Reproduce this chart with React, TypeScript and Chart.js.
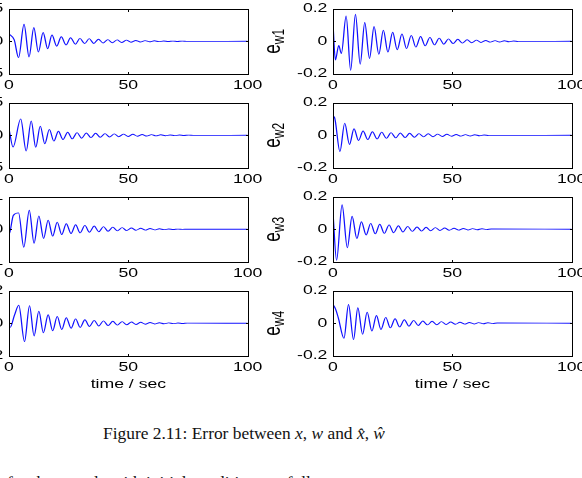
import React, { useEffect, useRef } from "react";
import { Chart, registerables } from "chart.js";

Chart.register(...registerables);

// ---- data -------------------------------------------------------------
// time axis (seconds)
const TIME_TICKS = [0, 50, 100];
const X_TITLE = "time / sec";

// y ticks for each panel
const X1_YTICKS = [-5, 0, 5];
const X2_YTICKS = [-5, 0, 5];
const X3_YTICKS = [-1, 0, 1];
const X4_YTICKS = [-2, 0, 2];
const W_YTICKS = [-0.2, 0, 0.2];

// subscripts of the estimation-error labels e_w1 ... e_w4
const W_LABELS = ["w1", "w2", "w3", "w4"];

// left column: turning points of the state errors (time s, value)
const X1_T = [0, 2.2, 4.0, 6.3, 8.4, 10.4, 12.3, 14.3, 16.2, 18.0, 20.0, 21.9, 23.9, 25.8, 27.8, 29.7, 31.7, 33.6, 35.5, 37.5, 39.4, 41.4, 43.3, 45.3, 47.2, 49.2, 51.1, 53.1, 55.0, 57.0, 58.9, 60.9, 62.8, 64.8, 66.7, 68.7, 70.6, 72.6, 74.5, 100];
const X1_V = [1.1, 0.2, -2.5, 2.6, -2.4, 2.1, -1.65, 1.35, -1.15, 0.95, -0.75, 0.7, -0.55, 0.55, -0.45, 0.45, -0.35, 0.4, -0.33, 0.32, -0.27, 0.26, -0.22, 0.21, -0.18, 0.17, -0.14, 0.13, -0.11, 0.1, -0.08, 0.07, -0.06, 0.05, -0.04, 0.03, -0.03, 0.02, -0.02, 0];

const X2_T = [0, 1.7, 4.9, 7.2, 9.3, 11.2, 13.1, 15.0, 16.9, 18.8, 20.7, 22.6, 24.6, 26.5, 28.5, 30.4, 32.4, 34.3, 36.3, 38.2, 40.2, 42.1, 44.1, 46.0, 48.0, 49.9, 51.9, 53.8, 55.8, 57.7, 59.7, 61.6, 63.6, 65.5, 67.5, 69.4, 71.4, 73.3, 75.3, 77.2, 100];
const X2_V = [1.0, -1.8, 2.5, -2.4, 2.2, -1.85, 1.4, -1.3, 0.9, -0.9, 0.62, -0.65, 0.47, -0.55, 0.4, -0.45, 0.35, -0.36, 0.3, -0.3, 0.26, -0.26, 0.22, -0.22, 0.18, -0.18, 0.15, -0.15, 0.12, -0.12, 0.1, -0.09, 0.07, -0.07, 0.05, -0.05, 0.04, -0.03, 0.02, -0.02, 0];

const X3_T = [0, 0.5, 1.8, 4.0, 6.2, 8.5, 10.5, 12.5, 14.5, 16.4, 18.3, 20.2, 22.1, 24.0, 26.0, 27.9, 29.8, 31.8, 33.7, 35.7, 37.6, 39.6, 41.5, 43.5, 45.4, 47.4, 49.3, 51.3, 53.2, 55.2, 57.1, 59.1, 61.0, 63.0, 64.9, 66.9, 68.8, 70.8, 72.7, 74.7, 100];
const X3_V = [-0.16, -0.05, 0.42, 0.5, -0.55, 0.58, -0.43, 0.41, -0.28, 0.28, -0.21, 0.22, -0.16, 0.17, -0.13, 0.14, -0.11, 0.12, -0.09, 0.1, -0.075, 0.08, -0.06, 0.065, -0.05, 0.05, -0.04, 0.04, -0.03, 0.03, -0.025, 0.022, -0.018, 0.016, -0.012, 0.01, -0.008, 0.006, -0.004, 0.003, 0];

const X4_T = [0, 0.5, 2.3, 4.1, 6.5, 8.6, 10.5, 12.5, 14.4, 16.4, 18.3, 20.2, 22.1, 24.0, 26.0, 27.9, 29.8, 31.8, 33.7, 35.7, 37.6, 39.6, 41.5, 43.5, 45.4, 47.4, 49.3, 51.3, 53.2, 55.2, 57.1, 59.1, 61.0, 63.0, 64.9, 66.9, 68.8, 70.8, 72.7, 74.7, 100];
const X4_V = [-0.18, -0.25, 0.5, 1.1, -1.12, 1.08, -0.78, 0.74, -0.58, 0.52, -0.46, 0.42, -0.38, 0.34, -0.3, 0.27, -0.25, 0.22, -0.2, 0.18, -0.17, 0.15, -0.14, 0.12, -0.11, 0.1, -0.09, 0.08, -0.07, 0.06, -0.055, 0.05, -0.04, 0.035, -0.03, 0.025, -0.02, 0.015, -0.012, 0.01, 0];

// right column: turning points of e_w1 ... e_w4
const W1_T = [0, 1.0, 2.4, 3.5, 5.5, 7.4, 9.4, 11.4, 13.3, 15.3, 17.2, 19.2, 21.1, 23.0, 25.0, 26.9, 28.9, 30.8, 32.8, 34.7, 36.7, 38.6, 40.6, 42.5, 44.5, 46.4, 48.4, 50.3, 52.3, 54.2, 56.2, 58.1, 60.1, 62.0, 64.0, 65.9, 67.9, 69.8, 71.8, 73.7, 75.7, 77.6, 100];
const W1_V = [0.105, -0.115, -0.025, -0.075, 0.155, -0.178, 0.165, -0.14, 0.115, -0.105, 0.09, -0.08, 0.068, -0.066, 0.055, -0.052, 0.045, -0.045, 0.036, -0.036, 0.029, -0.028, 0.024, -0.022, 0.019, -0.018, 0.015, -0.014, 0.012, -0.011, 0.009, -0.009, 0.007, -0.007, 0.005, -0.005, 0.004, -0.004, 0.003, -0.003, 0.002, -0.002, 0];

const W2_T = [0, 0.6, 2.9, 4.9, 6.9, 8.8, 10.7, 12.6, 14.6, 16.5, 18.5, 20.4, 22.4, 24.3, 26.3, 28.2, 30.2, 32.1, 34.1, 36.0, 38.0, 39.9, 41.9, 43.8, 45.8, 47.7, 49.7, 51.6, 53.6, 55.5, 57.5, 59.4, 61.4, 63.3, 65.3, 100];
const W2_V = [0.115, 0.11, -0.1, 0.074, -0.056, 0.04, -0.032, 0.026, -0.026, 0.022, -0.022, 0.019, -0.019, 0.016, -0.016, 0.014, -0.014, 0.012, -0.012, 0.01, -0.01, 0.009, -0.009, 0.007, -0.007, 0.006, -0.006, 0.005, -0.005, 0.004, -0.004, 0.003, -0.003, 0.002, -0.002, 0];

const W3_T = [0, 1.5, 3.8, 6.0, 8.0, 10.0, 11.9, 13.9, 15.8, 17.7, 19.6, 21.5, 23.5, 25.4, 27.4, 29.3, 31.3, 33.2, 35.2, 37.1, 39.0, 40.9, 42.9, 44.8, 46.8, 48.7, 50.7, 52.6, 54.6, 56.5, 58.5, 60.4, 62.4, 64.3, 66.3, 100];
const W3_V = [0.1, -0.19, 0.15, -0.113, 0.08, -0.057, 0.046, -0.035, 0.036, -0.028, 0.031, -0.025, 0.027, -0.021, 0.022, -0.017, 0.018, -0.013, 0.014, -0.011, 0.012, -0.009, 0.01, -0.007, 0.008, -0.006, 0.006, -0.005, 0.005, -0.004, 0.004, -0.003, 0.003, -0.002, 0.002, 0];

const W4_T = [0, 1.0, 2.2, 4.6, 6.5, 8.6, 10.4, 12.4, 14.3, 16.3, 18.2, 20.1, 22.1, 24.0, 26.0, 27.9, 29.9, 31.8, 33.8, 35.7, 37.6, 39.6, 41.5, 43.5, 45.4, 47.4, 49.3, 51.3, 53.2, 55.2, 57.1, 59.1, 61.0, 63.0, 64.9, 66.9, 68.8, 100];
const W4_V = [0.115, 0.09, 0.035, -0.092, 0.115, -0.1, 0.095, -0.068, 0.068, -0.048, 0.048, -0.038, 0.036, -0.028, 0.028, -0.022, 0.022, -0.018, 0.018, -0.014, 0.014, -0.01, 0.012, -0.009, 0.01, -0.007, 0.008, -0.006, 0.006, -0.005, 0.005, -0.004, 0.004, -0.003, 0.003, -0.002, 0.002, 0];

// ---- layout & style ----------------------------------------------------
const PAGE_W = 582;
const PAGE_H = 478;
const WIDEN = 1.4; // every panel is laid out narrow, then drawn widened by this factor
const PLOT_W = 171; // logical (unwidened) plot width
const PLOT_H = 67;
const ROW_TOPS = [7, 101, 195, 289];
const COL_LEFTS = [9, 333]; // screen x of each column's plot box
const AXIS_W = [40, 70]; // logical width reserved left of each plot box
const PAD_T = 10;
const PAD_R = 14;
const XAXIS_H = 25;
const XAXIS_H_LAST = 40;

const SANS = "'Liberation Sans', Arial, Helvetica, sans-serif";
const SERIF = "'Liberation Serif', 'DejaVu Serif', serif";
const TICK_FONT = 12.6;
const LINE_COLOR = "#1010ff";
const AXIS_COLOR = "#000000";
const TICK_LEN = 3;

type PanelSpec = {
  t: number[];
  v: number[];
  yTicks: number[];
  col: number;
  row: number;
  label?: string;
};

const PANELS: PanelSpec[] = [
  { t: X1_T, v: X1_V, yTicks: X1_YTICKS, col: 0, row: 0 },
  { t: W1_T, v: W1_V, yTicks: W_YTICKS, col: 1, row: 0, label: W_LABELS[0] },
  { t: X2_T, v: X2_V, yTicks: X2_YTICKS, col: 0, row: 1 },
  { t: W2_T, v: W2_V, yTicks: W_YTICKS, col: 1, row: 1, label: W_LABELS[1] },
  { t: X3_T, v: X3_V, yTicks: X3_YTICKS, col: 0, row: 2 },
  { t: W3_T, v: W3_V, yTicks: W_YTICKS, col: 1, row: 2, label: W_LABELS[2] },
  { t: X4_T, v: X4_V, yTicks: X4_YTICKS, col: 0, row: 3 },
  { t: W4_T, v: W4_V, yTicks: W_YTICKS, col: 1, row: 3, label: W_LABELS[3] },
];

// Widens the drawing horizontally, then adds the box, inward ticks,
// the rotated y label and the x title.
function framePlugin(spec: PanelSpec, isLast: boolean) {
  return {
    id: "frame",
    beforeDraw(chart: any) {
      const c = chart.canvas as HTMLCanvasElement;
      const bw = Math.round(chart.width * WIDEN);
      if (c.width !== bw) {
        c.width = bw;
        c.style.width = bw + "px";
      }
      chart.ctx.setTransform(WIDEN, 0, 0, 1, 0, 0);
    },
    afterDraw(chart: any) {
      const { ctx, chartArea: a, scales } = chart;
      ctx.save();
      ctx.setTransform(1, 0, 0, 1, 0, 0);
      const px = (v: number) => Math.round(v * WIDEN);
      const L = px(a.left);
      const R = px(a.right);
      const T = Math.round(a.top);
      const B = Math.round(a.bottom);
      ctx.fillStyle = AXIS_COLOR;
      ctx.fillRect(L, T, R - L + 1, 1);
      ctx.fillRect(L, B, R - L + 1, 1);
      ctx.fillRect(L, T, 1, B - T + 1);
      ctx.fillRect(R, T, 1, B - T + 1);
      for (const v of TIME_TICKS) {
        const x = px(scales.x.getPixelForValue(v));
        ctx.fillRect(Math.min(x, R), T, 1, TICK_LEN);
        ctx.fillRect(Math.min(x, R), B - TICK_LEN + 1, 1, TICK_LEN);
      }
      for (const v of spec.yTicks) {
        const y = Math.round(scales.y.getPixelForValue(v));
        const yy = Math.min(Math.max(y, T), B);
        ctx.fillRect(L, yy, TICK_LEN, 1);
        ctx.fillRect(R - TICK_LEN + 1, yy, TICK_LEN, 1);
      }
      ctx.restore();

      ctx.save();
      ctx.fillStyle = "#000";
      if (spec.label) {
        const mainFont = `17px ${SANS}`;
        const subFont = `12px ${SANS}`;
        ctx.font = mainFont;
        const mw = ctx.measureText("e").width;
        ctx.font = subFont;
        const sw = ctx.measureText(spec.label).width;
        ctx.translate(a.left - 38, (a.top + a.bottom) / 2);
        ctx.rotate(-Math.PI / 2);
        ctx.textAlign = "left";
        ctx.textBaseline = "alphabetic";
        const x0 = -(mw + sw) / 2;
        ctx.font = mainFont;
        ctx.fillText("e", x0, 0);
        ctx.font = subFont;
        ctx.fillText(spec.label, x0 + mw, 3);
      }
      ctx.restore();
      if (isLast) {
        ctx.save();
        ctx.fillStyle = "#000";
        ctx.font = `${TICK_FONT}px ${SANS}`;
        ctx.textAlign = "center";
        ctx.textBaseline = "alphabetic";
        ctx.fillText(X_TITLE, (a.left + a.right) / 2, a.bottom + 32);
        ctx.restore();
      }
    },
  };
}

function Panel({ spec }: { spec: PanelSpec }) {
  const ref = useRef<HTMLCanvasElement>(null);
  const isLast = spec.row === ROW_TOPS.length - 1;
  const yw = AXIS_W[spec.col];
  const xh = isLast ? XAXIS_H_LAST : XAXIS_H;
  const w = yw + PLOT_W + PAD_R;
  const h = PAD_T + PLOT_H + xh;
  const left = COL_LEFTS[spec.col] - yw * WIDEN;
  const top = ROW_TOPS[spec.row] - PAD_T;

  useEffect(() => {
    const yt = spec.yTicks;
    const chart = new Chart(ref.current as HTMLCanvasElement, {
      type: "line",
      data: {
        datasets: [
          {
            data: spec.t.map((x, i) => ({ x, y: spec.v[i] })),
            borderColor: LINE_COLOR,
            borderWidth: 0.9,
            pointRadius: 0,
            fill: false,
            cubicInterpolationMode: "monotone",
          },
        ],
      },
      options: {
        animation: false,
        responsive: false,
        devicePixelRatio: 1,
        events: [],
        layout: { padding: { top: PAD_T, right: PAD_R, left: 0, bottom: 0 } },
        plugins: { legend: { display: false }, tooltip: { enabled: false } },
        scales: {
          x: {
            type: "linear",
            min: TIME_TICKS[0],
            max: TIME_TICKS[TIME_TICKS.length - 1],
            afterBuildTicks: (s: any) => {
              s.ticks = TIME_TICKS.map((value) => ({ value }));
            },
            afterFit: (s: any) => {
              s.height = xh;
            },
            grid: { display: false, drawTicks: false },
            border: { display: false },
            ticks: {
              autoSkip: false,
              maxRotation: 0,
              padding: 4,
              color: "#000",
              font: { family: SANS, size: TICK_FONT },
            },
          },
          y: {
            type: "linear",
            min: yt[0],
            max: yt[yt.length - 1],
            afterBuildTicks: (s: any) => {
              s.ticks = yt.map((value) => ({ value }));
            },
            afterFit: (s: any) => {
              s.width = yw;
            },
            grid: { display: false, drawTicks: false },
            border: { display: false },
            ticks: {
              padding: 4,
              color: "#000",
              font: { family: SANS, size: TICK_FONT },
              callback: (value: any) => String(Math.round(Number(value) * 1000) / 1000),
            },
          },
        },
      },
      plugins: [framePlugin(spec, isLast)],
    });
    return () => chart.destroy();
  }, []);

  return (
    <canvas
      ref={ref}
      width={w}
      height={h}
      style={{ position: "absolute", left, top, width: w * WIDEN, height: h }}
    />
  );
}

export default function App() {
  return (
    <div
      style={{
        position: "fixed",
        left: 0,
        top: 0,
        width: PAGE_W,
        height: PAGE_H,
        overflow: "hidden",
        background: "#fff",
      }}
    >
      {PANELS.map((p, i) => (
        <Panel key={i} spec={p} />
      ))}
      <div
        style={{
          position: "absolute",
          left: 103,
          top: 425,
          fontFamily: SERIF,
          fontSize: 17.4,
          lineHeight: "17.4px",
          whiteSpace: "nowrap",
          color: "#111",
        }}
      >
        Figure 2.11: Error between <i>x</i>, <i>w</i> and <i>x̂</i>, <i>ŵ</i>
      </div>
      <div
        style={{
          position: "absolute",
          left: 7,
          top: 474,
          fontFamily: SERIF,
          fontSize: 17.4,
          lineHeight: "17.4px",
          whiteSpace: "nowrap",
          color: "#111",
        }}
      >
        for the sample with initial conditions as follows:
      </div>
    </div>
  );
}
